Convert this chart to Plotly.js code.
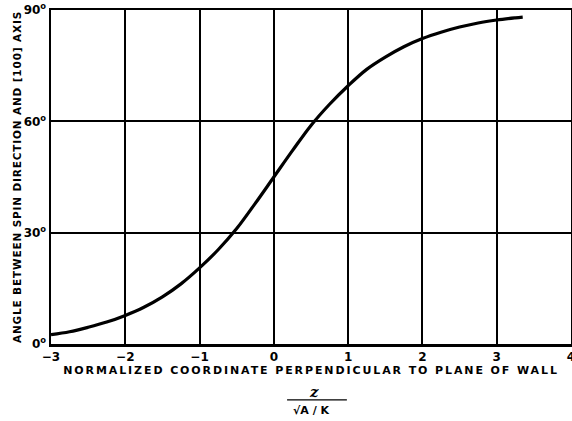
<!DOCTYPE html>
<html>
<head>
<meta charset="utf-8">
<script src="https://cdn.plot.ly/plotly-3.0.1.min.js"></script>
<style>
html, body { margin: 0; padding: 0; background: #fff; }
#chart { width: 572px; height: 421px; }
.xtitle { letter-spacing: 1.9px; }
.ytitle { letter-spacing: 0.85px; }
</style>
</head>
<body>
<div id="chart"></div>
<script>
// Normalized coordinate z / sqrt(A/K)
const coord = [-3, -2.75, -2.5, -2.25, -2, -1.75, -1.5, -1.25, -1, -0.75, -0.5, -0.25, 0,
  0.25, 0.5, 0.75, 1, 1.25, 1.5, 1.75, 2, 2.25, 2.5, 2.75, 3, 3.25, 3.35];
// Angle between spin direction and [100] axis (degrees)
const angle = [2.5, 3.3, 4.5, 5.9, 7.7, 9.9, 12.7, 16.2, 20.5, 25.4, 31.1, 37.9, 45,
  52.1, 58.9, 64.6, 69.6, 74.0, 77.3, 80.1, 82.3, 84.0, 85.4, 86.5, 87.3, 87.9, 88.1];

const xTickVals = [-3, -2, -1, 0, 1, 2, 3, 4];
const xTickText = ['\u22123', '\u22122', '\u22121', '0', '1', '2', '3', '4'];
const yTickVals = [0, 30, 60, 90];
const yTickText = ['0<sup>o</sup>', '30<sup>o</sup>', '60<sup>o</sup>', '90<sup>o</sup>'];

const xTitle = 'NORMALIZED COORDINATE PERPENDICULAR TO PLANE OF WALL';
const yTitle = 'ANGLE BETWEEN SPIN DIRECTION AND [100] AXIS';

const font = { family: 'DejaVu Sans', size: 11, color: '#000', weight: 'bold' };

const trace = {
  x: coord, y: angle, type: 'scatter', mode: 'lines',
  line: { color: '#000', width: 3.2, shape: 'spline' },
  hoverinfo: 'skip'
};

const layout = {
  width: 572, height: 421,
  margin: { l: 51, r: 1, t: 10, b: 77 },
  paper_bgcolor: '#fff', plot_bgcolor: '#fff',
  showlegend: false,
  font: font,
  xaxis: {
    range: [-3, 4], tickvals: xTickVals, ticktext: xTickText,
    showgrid: true, gridcolor: '#000', gridwidth: 2,
    showline: true, linecolor: '#000', linewidth: 2.5, mirror: true,
    zeroline: false, ticks: '', ticklabelstandoff: 0, ticklabeloverflow: 'allow',
    tickfont: { family: 'DejaVu Sans', size: 12, color: '#000', weight: 'bold' },
    title: { text: xTitle, standoff: 4, font: { family: 'DejaVu Sans', size: 11, color: '#000', weight: 'bold' } },
    automargin: false, fixedrange: true
  },
  yaxis: {
    range: [0, 90], tickvals: yTickVals, ticktext: yTickText,
    showgrid: true, gridcolor: '#000', gridwidth: 2,
    showline: true, linecolor: '#000', linewidth: 2.5, mirror: true,
    zeroline: false, ticks: '', ticklabeloverflow: 'allow',
    tickfont: { family: 'DejaVu Sans', size: 12, color: '#000', weight: 'bold' },
    title: { text: yTitle, standoff: 0, font: { family: 'DejaVu Sans', size: 10.5, color: '#000', weight: 'bold' } },
    automargin: false, fixedrange: true
  },
  annotations: [
    { xref: 'paper', yref: 'paper', x: 0.505, y: -0.145, xanchor: 'center', yanchor: 'middle',
      text: '<i>z</i>', showarrow: false,
      font: { family: 'DejaVu Serif', size: 15, color: '#000', weight: 'bold' } },
    { xref: 'paper', yref: 'paper', x: 0.5, y: -0.2, xanchor: 'center', yanchor: 'middle',
      text: '\u221AA / K', showarrow: false,
      font: { family: 'DejaVu Sans', size: 11, color: '#000', weight: 'bold' } }
  ],
  shapes: [
    { type: 'line', xref: 'paper', yref: 'paper', x0: 0.454, x1: 0.569, y0: -0.167, y1: -0.167,
      line: { color: '#000', width: 1.2 } }
  ]
};

Plotly.newPlot('chart', [trace], layout, { displayModeBar: false, staticPlot: true });
</script>
</body>
</html>
